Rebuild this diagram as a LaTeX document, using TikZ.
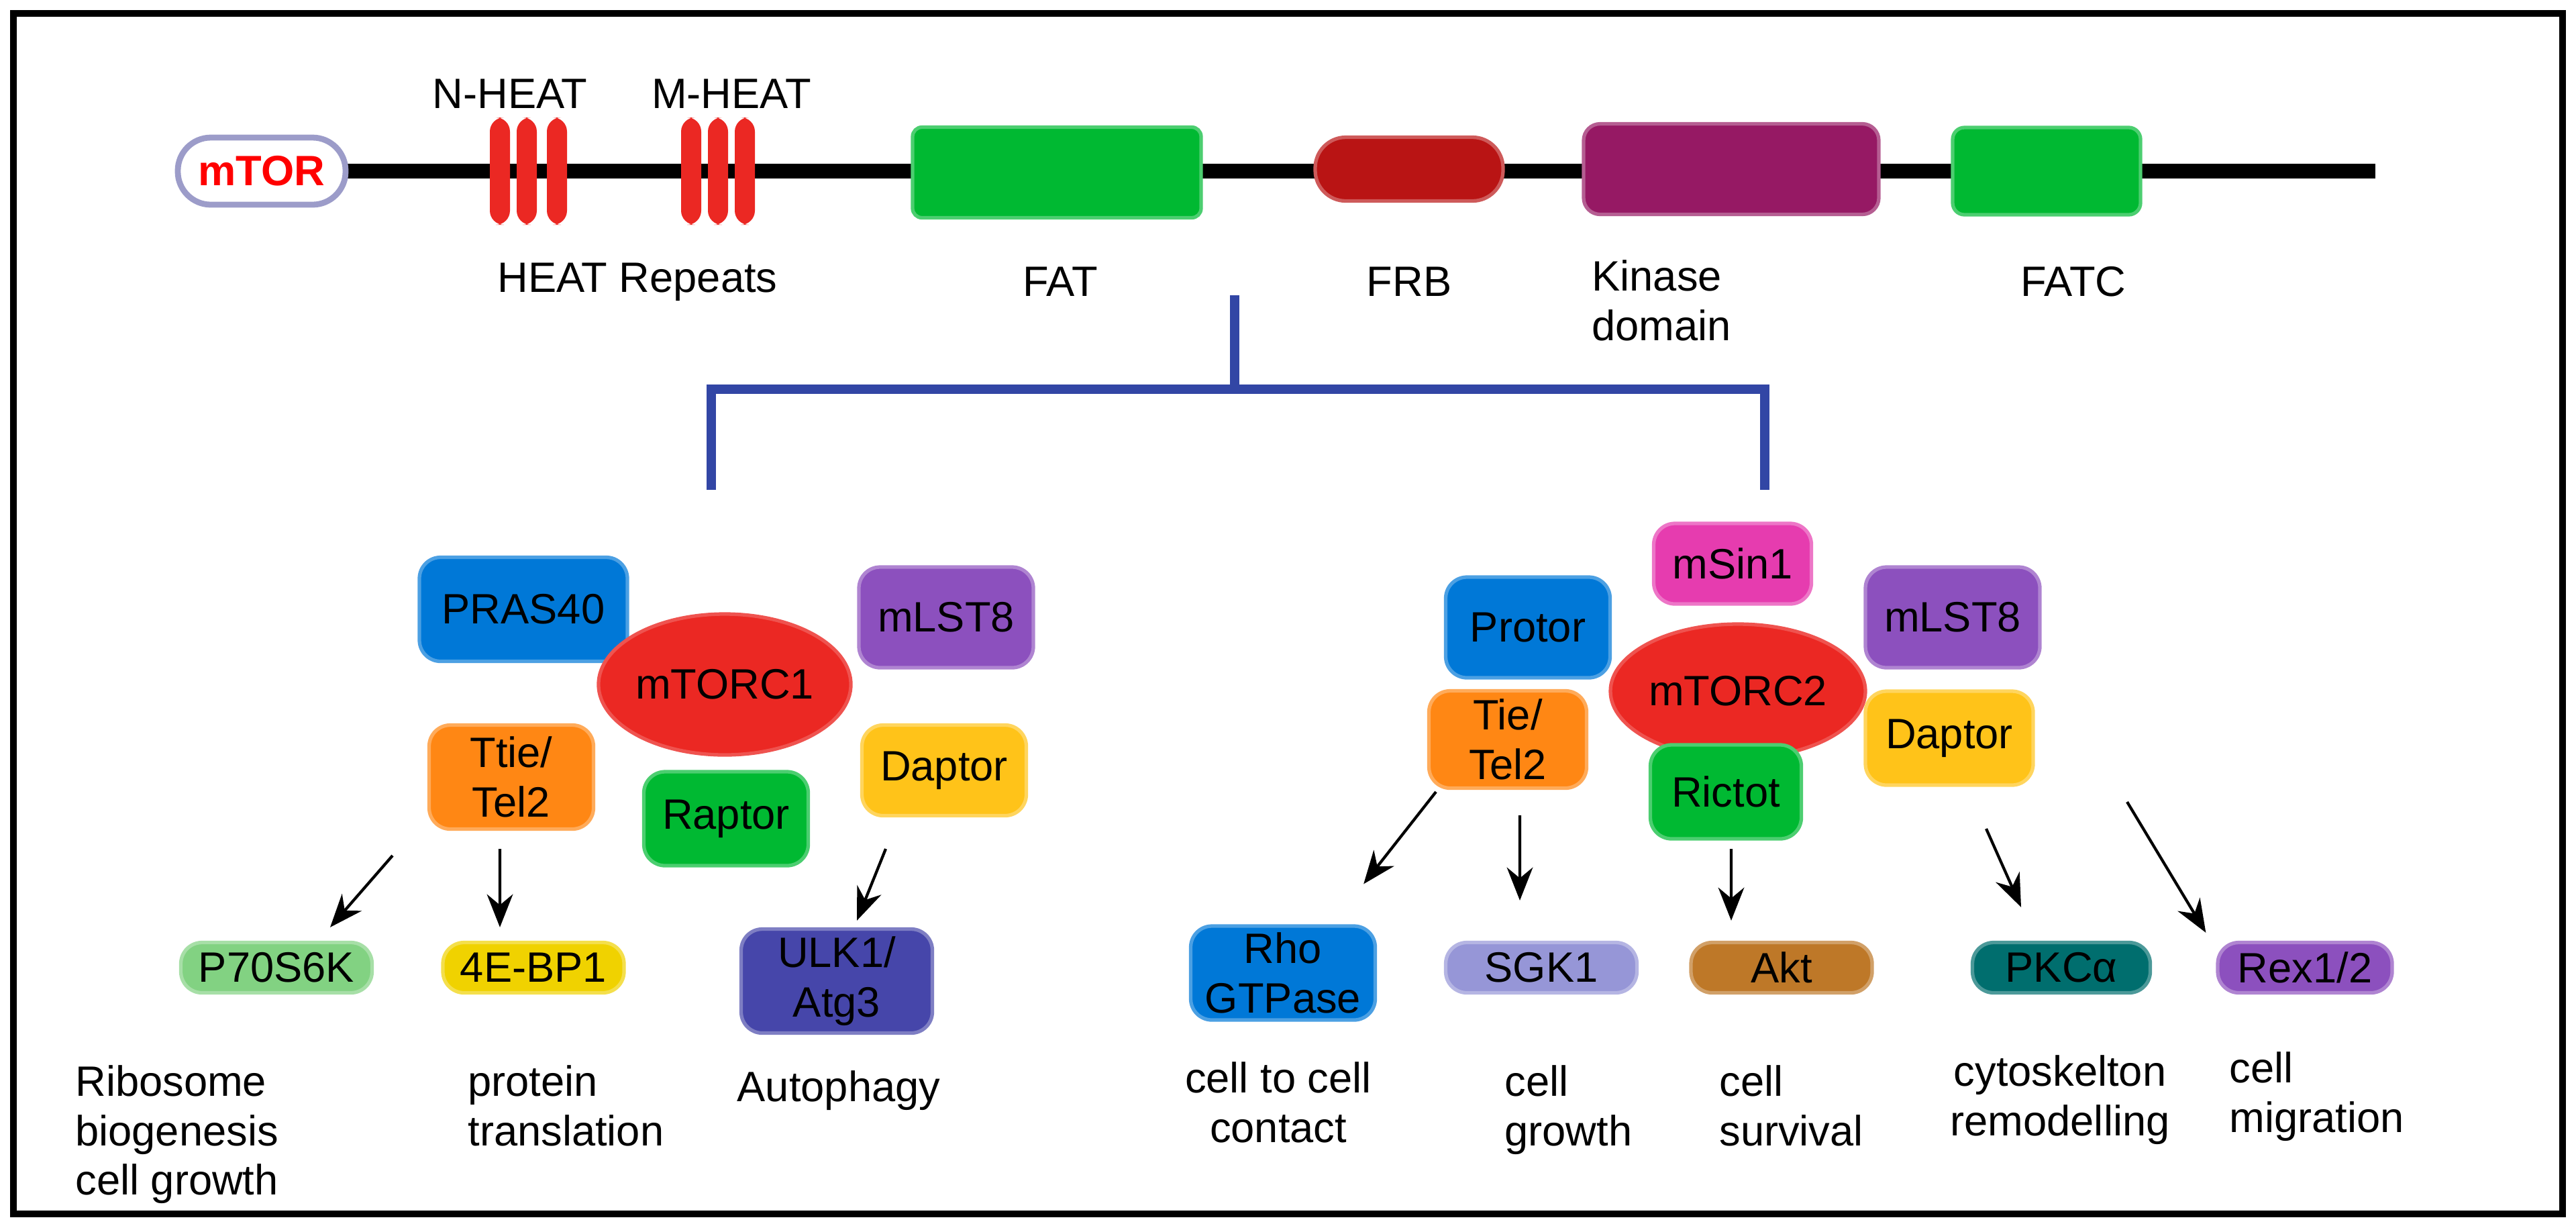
\documentclass[tikz,border=0pt]{standalone}
\usepackage{fontspec}
\setmainfont{Liberation Sans}
\usetikzlibrary{arrows.meta,positioning,shapes.geometric}
\definecolor{linkblue}{RGB}{50,70,165}
\definecolor{dblue}{RGB}{0,120,215}
\definecolor{dpurple}{RGB}{140,80,190}
\definecolor{dorange}{RGB}{255,135,20}
\definecolor{dgreen}{RGB}{0,185,50}
\definecolor{dyellow}{RGB}{255,195,25}
\definecolor{dred}{RGB}{235,40,35}
\definecolor{dpink}{RGB}{230,60,175}
\definecolor{lgreen}{RGB}{130,210,130}
\definecolor{gyellow}{RGB}{240,210,0}
\definecolor{navy}{RGB}{70,70,170}
\definecolor{lav}{RGB}{150,150,215}
\definecolor{brownish}{RGB}{190,120,40}
\definecolor{teal2}{RGB}{0,110,110}
\definecolor{frbred}{RGB}{185,20,20}
\definecolor{kinase}{RGB}{150,25,100}
\tikzset{
  txt/.style={font=\fontsize{18}{21}\selectfont},
  prot/.style={txt,rounded corners=9pt,draw=#1!70!white,line width=1.5pt,fill=#1,
    align=center,inner sep=2pt},
  cplx/.style={txt,ellipse,inner sep=0pt,fill=dred,draw=dred!80!white,line width=1.5pt},
  heat/.style={fill=dred,rounded corners=6pt},
  act/.style={line width=1.2pt,-{Stealth[length=14pt,width=11pt]}},
  note/.style={txt,align=left,anchor=north west}
}
\begin{document}
\begin{tikzpicture}
  \useasboundingbox (0,0) rectangle (38.39,-18.29);
  \draw[line width=3pt] (0.2,-0.2) rectangle (38.19,-18.09);

  % mTOR backbone
  \draw[line width=6pt] (4.9,-2.55) -- (35.4,-2.55);
  \node[txt,rounded corners=14pt,draw=blue!30!gray!60,line width=2.5pt,fill=white,text=red,
    minimum width=2.5cm,minimum height=1.0cm,font=\fontsize{18}{21}\selectfont\bfseries]
    (mtor) at (3.9,-2.55) {mTOR};

  % HEAT repeats
  \foreach \x in {7.45,7.85,8.3,10.3,10.7,11.1}
    \fill[heat] (\x-0.15,-1.75) rectangle (\x+0.15,-3.35);
  \node[txt] (nheat) at (7.6,-1.4) {N-HEAT};
  \node[txt] (mheat) at (10.9,-1.4) {M-HEAT};
  \node[txt] (heatrep) at (9.5,-4.2) {HEAT Repeats};

  % domains
  \node[prot=dgreen,minimum width=4.3cm,minimum height=1.35cm,rounded corners=4pt] (fat) at (15.75,-2.57) {};
  \node[prot=frbred,minimum width=2.8cm,minimum height=0.95cm,rounded corners=13pt] (frb) at (21.0,-2.52) {};
  \node[prot=kinase,minimum width=4.4cm,minimum height=1.35cm,rounded corners=7pt] (kin) at (25.8,-2.52) {};
  \node[prot=dgreen,minimum width=2.8cm,minimum height=1.3cm,rounded corners=5pt] (fatc) at (30.5,-2.55) {};
  \node[txt] (fatl) at (15.8,-4.2) {FAT};
  \node[txt] (frbl) at (21.0,-4.2) {FRB};
  \node[txt,align=left,anchor=north west] (kinl) at (23.6,-3.75) {Kinase\\domain};
  \node[txt] (fatcl) at (30.9,-4.2) {FATC};

  % branch
  \coordinate (top) at (18.4,-4.4);
  \coordinate (mid) at (18.4,-5.8);
  \coordinate (c1) at (10.6,-7.3);
  \coordinate (c2) at (26.3,-7.3);
  \draw[linkblue,line width=4pt] (top) -- (mid);
  \draw[linkblue,line width=4pt] (c1) |- (mid) -| (c2);

  % mTORC1
  \node[prot=dblue,minimum width=3.1cm,minimum height=1.55cm] (pras) at (7.8,-9.08) {PRAS40};
  \node[prot=dpurple,minimum width=2.6cm,minimum height=1.5cm] (lst1) at (14.1,-9.2) {mLST8};
  \node[cplx,minimum width=3.6cm,minimum height=2.1cm] (torc1) at (10.8,-10.2) {mTORC1};
  \node[prot=dorange,minimum width=2.45cm,minimum height=1.55cm] (tel1) at (7.62,-11.58) {Ttie/\\Tel2};
  \node[prot=dgreen,minimum width=2.45cm,minimum height=1.4cm] (rap) at (10.82,-12.2) {Raptor};
  \node[prot=dyellow,minimum width=2.45cm,minimum height=1.35cm] (dap1) at (14.07,-11.48) {Daptor};

  \node[prot=lgreen,minimum width=2.85cm,minimum height=0.75cm] (p70) at (4.12,-14.42) {P70S6K};
  \node[prot=gyellow,minimum width=2.7cm,minimum height=0.75cm] (ebp) at (7.95,-14.42) {4E-BP1};
  \node[prot=navy,minimum width=2.85cm,minimum height=1.55cm] (ulk) at (12.47,-14.62) {ULK1/\\Atg3};

  \coordinate (s1) at (5.85,-12.75);
  \coordinate (s2) at (7.45,-12.65);
  \coordinate (s3) at (13.2,-12.65);
  \draw[act] (s1) -- ([xshift=8mm,yshift=2mm]p70.north);
  \draw[act] (s2) -- ([xshift=-5mm,yshift=2mm]ebp.north);
  \draw[act] (s3) -- ([xshift=3mm,yshift=1mm]ulk.north);

  \node[note] (ribo) at (1.0,-15.75) {Ribosome\\biogenesis\\cell growth};
  \node[note] (trans) at (6.85,-15.75) {protein\\translation};
  \node[txt] (auto) at (12.5,-16.25) {Autophagy};

  % mTORC2
  \node[prot=dpink,minimum width=2.35cm,minimum height=1.2cm] (sin) at (25.82,-8.4) {mSin1};
  \node[prot=dblue,minimum width=2.45cm,minimum height=1.5cm] (protor) at (22.77,-9.35) {Protor};
  \node[prot=dpurple,minimum width=2.6cm,minimum height=1.5cm] (lst2) at (29.1,-9.2) {mLST8};
  \node[cplx,minimum width=3.8cm,minimum height=2.0cm] (torc2) at (25.9,-10.3) {mTORC2};
  \node[prot=dorange,minimum width=2.35cm,minimum height=1.45cm] (tel2) at (22.47,-11.02) {Tie/\\Tel2};
  \node[prot=dgreen,minimum width=2.25cm,minimum height=1.4cm] (ric) at (25.72,-11.8) {Rictot};
  \node[prot=dyellow,minimum width=2.5cm,minimum height=1.4cm] (dap2) at (29.05,-11.0) {Daptor};

  \node[prot=dblue,minimum width=2.75cm,minimum height=1.4cm] (rho) at (19.12,-14.5) {Rho\\GTPase};
  \node[prot=lav,minimum width=2.85cm,minimum height=0.75cm] (sgk) at (22.97,-14.42) {SGK1};
  \node[prot=brownish,minimum width=2.7cm,minimum height=0.75cm] (akt) at (26.55,-14.42) {Akt};
  \node[prot=teal2,minimum width=2.65cm,minimum height=0.75cm] (pkc) at (30.72,-14.42) {PKCα};
  \node[prot=dpurple,minimum width=2.6cm,minimum height=0.75cm] (rex) at (34.35,-14.42) {Rex1/2};

  \coordinate (t1) at (21.4,-11.8);
  \coordinate (t2) at (22.65,-12.15);
  \coordinate (t3) at (25.8,-12.65);
  \coordinate (t4) at (29.6,-12.35);
  \coordinate (t5) at (31.7,-11.95);
  \draw[act] (t1) -- ([xshift=-2mm,yshift=6mm]rho.north east);
  \draw[act] (t2) -- ([xshift=-3.2mm,yshift=6mm]sgk.north);
  \draw[act] (t3) -- ([xshift=-7.5mm,yshift=3mm]akt.north);
  \draw[act] (t4) -- ([xshift=-6mm,yshift=5mm]pkc.north);
  \draw[act] (t5) -- ([xshift=-1.5mm,yshift=1.2mm]rex.north west);

  \node[txt,align=center,anchor=north] (contact) at (19.05,-15.7) {cell to cell\\contact};
  \node[note] (growth) at (22.3,-15.75) {cell\\growth};
  \node[note] (surv) at (25.5,-15.75) {cell\\survival};
  \node[txt,align=center,anchor=north] (cyto) at (30.7,-15.6) {cytoskelton\\remodelling};
  \node[note] (migr) at (33.1,-15.55) {cell\\migration};
\end{tikzpicture}
\end{document}
